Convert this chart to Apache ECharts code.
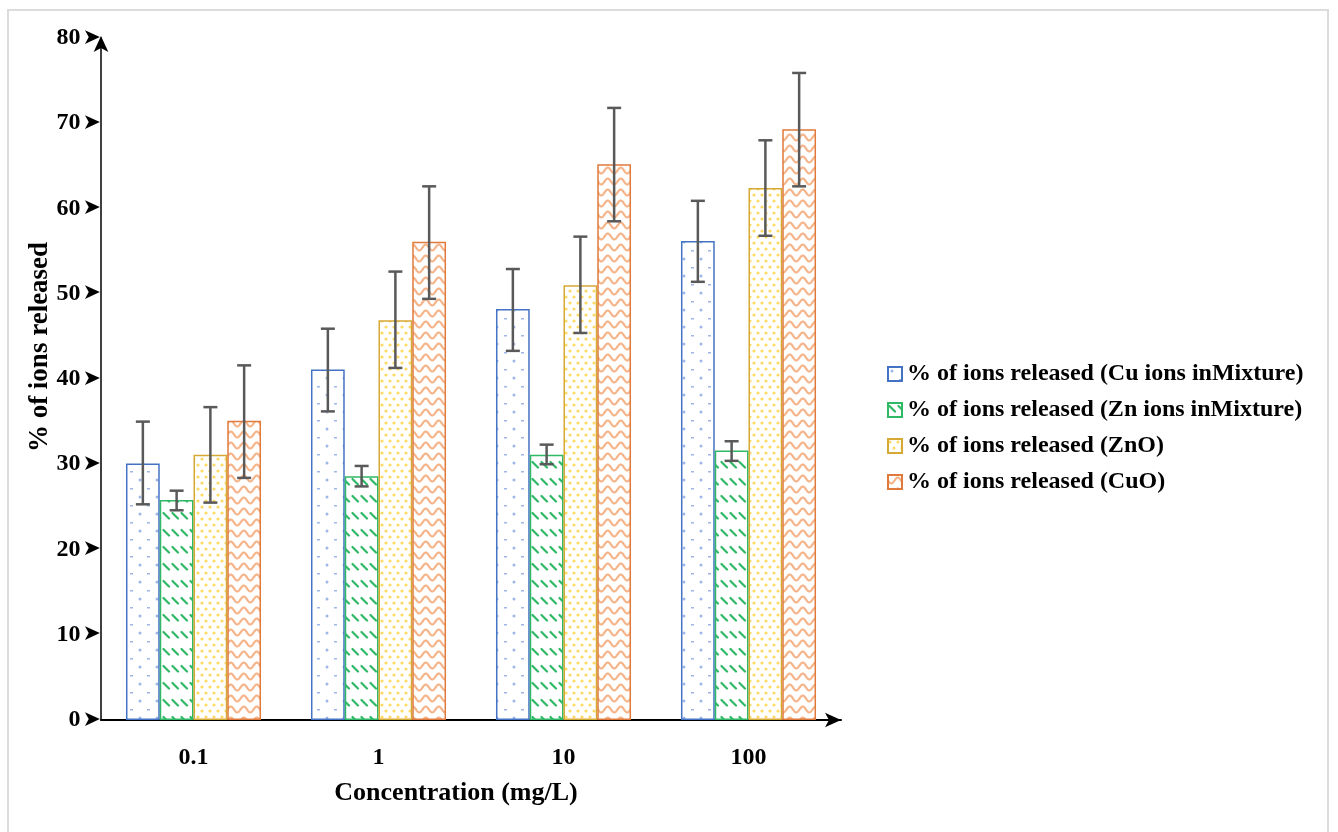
<!DOCTYPE html>
<html>
<head>
<meta charset="utf-8">
<script src="https://cdn.jsdelivr.net/npm/echarts@6/dist/echarts.min.js"></script>
<style>
  html, body { margin: 0; padding: 0; background: #fff; }
  #frame { position: absolute; left: 7px; top: 9px; width: 1322px; height: 830px;
           border: 2px solid #dcdcdc; border-bottom: none; box-sizing: border-box; }
  #chart { position: absolute; left: 0; top: 0; width: 1338px; height: 832px; }
</style>
</head>
<body>
<div id="frame"></div>
<div id="chart"></div>
<script>
// 数据
const categories = ["0.1", "1", "10", "100"];
const seriesNames = [
  "% of ions released (Cu ions inMixture)",
  "% of ions released (Zn ions inMixture)",
  "% of ions released (ZnO)",
  "% of ions released (CuO)"
];
const cuMix = [30.1, 41.1, 48.2, 56.2];
const znMix = [25.8, 28.6, 31.1, 31.6];
const zno = [31.1, 46.9, 51.0, 62.4];
const cuo = [35.1, 56.1, 65.2, 69.3];
// 误差线 [低, 高]
const cuMixErr = [[25.3, 35.0], [36.2, 45.9], [43.3, 52.9], [51.4, 60.9]];
const znMixErr = [[24.6, 26.9], [27.4, 29.8], [30.0, 32.3], [30.4, 32.7]];
const znoErr = [[25.5, 36.7], [41.3, 52.6], [45.4, 56.7], [56.8, 68.0]];
const cuoErr = [[28.4, 41.6], [49.4, 62.6], [58.5, 71.8], [62.6, 75.9]];
const yTicks = [0, 10, 20, 30, 40, 50, 60, 70, 80];

const values = [cuMix, znMix, zno, cuo];
const errors = [cuMixErr, znMixErr, znoErr, cuoErr];
const borderColors = ["#4472c4", "#2fb865", "#d6a834", "#e07a3c"];
const FONT = "'Liberation Serif', 'Times New Roman', serif";

// 填充图案
function makeTile(w, h, draw) {
  const c = document.createElement("canvas");
  c.width = w;
  c.height = h;
  const ctx = c.getContext("2d");
  draw(ctx);
  return { image: c, repeat: "repeat" };
}
const patterns = [
  makeTile(17, 17, ctx => {
    ctx.fillStyle = "#9fb7e6";
    ctx.beginPath(); ctx.arc(4, 4, 1.5, 0, Math.PI * 2); ctx.fill();
    ctx.fillRect(11, 12, 3, 1.5);
  }),
  makeTile(9, 17, ctx => {
    ctx.strokeStyle = "#2fb865";
    ctx.lineWidth = 2.2;
    ctx.lineCap = "round";
    ctx.beginPath(); ctx.moveTo(1.5, 3); ctx.lineTo(7, 8.5); ctx.stroke();
  }),
  makeTile(8, 12, ctx => {
    ctx.fillStyle = "#ffd966";
    ctx.beginPath(); ctx.arc(2, 3, 1.6, 0, Math.PI * 2); ctx.fill();
    ctx.beginPath(); ctx.arc(6, 9, 1.6, 0, Math.PI * 2); ctx.fill();
  }),
  makeTile(13, 11, ctx => {
    ctx.strokeStyle = "#f5b48a";
    ctx.lineWidth = 2.2;
    ctx.beginPath();
    for (let x = -1; x <= 14; x += 0.5) {
      const y = 5.5 + 3 * Math.sin((x / 13) * Math.PI * 2);
      if (x === -1) ctx.moveTo(x, y); else ctx.lineTo(x, y);
    }
    ctx.stroke();
  })
];

const CAT_GAP = 0.27;
const barSeries = seriesNames.map((name, i) => ({
  name: name,
  type: "bar",
  data: values[i],
  barGap: "0%",
  barCategoryGap: CAT_GAP * 100 + "%",
  itemStyle: {
    color: patterns[i],
    borderColor: borderColors[i],
    borderWidth: 1.5
  },
  z: 2
}));

const errData = [];
errors.forEach((arr, s) => {
  arr.forEach((e, c) => errData.push([c, e[0], e[1], s]));
});

const errorSeries = {
  type: "custom",
  data: errData,
  z: 5,
  silent: true,
  renderItem: function (params, api) {
    const c = api.value(0);
    const s = api.value(3);
    const band = api.size([1, 0])[0];
    const barW = band * (1 - CAT_GAP) / 4;
    const lo = api.coord([c, api.value(1)]);
    const hi = api.coord([c, api.value(2)]);
    const x = lo[0] + (s - 1.5) * barW;
    const cap = 7;
    const style = { stroke: "#595959", lineWidth: 2.5, fill: null };
    return {
      type: "group",
      children: [
        { type: "line", shape: { x1: x, y1: hi[1], x2: x, y2: lo[1] }, style: style },
        { type: "line", shape: { x1: x - cap, y1: hi[1], x2: x + cap, y2: hi[1] }, style: style },
        { type: "line", shape: { x1: x - cap, y1: lo[1], x2: x + cap, y2: lo[1] }, style: style }
      ]
    };
  }
};

const chart = echarts.init(document.getElementById("chart"));
chart.setOption({
  animation: false,
  textStyle: { fontFamily: FONT },
  grid: { left: 101, right: 497, top: 38, bottom: 112, containLabel: false },
  legend: {
    data: seriesNames,
    orient: "vertical",
    left: 882,
    top: 357,
    itemWidth: 14,
    itemHeight: 14,
    itemGap: 12,
    icon: "rect",
    textStyle: { fontFamily: FONT, fontWeight: "bold", fontSize: 24, color: "#000" }
  },
  graphic: [
    {
      type: "text",
      x: 40,
      y: 347,
      rotation: Math.PI / 2,
      style: {
        text: "% of ions released",
        font: "bold 27px " + FONT,
        fill: "#000",
        align: "center",
        verticalAlign: "middle"
      }
    },
    {
      type: "text",
      x: 456,
      y: 793,
      style: {
        text: "Concentration (mg/L)",
        font: "bold 26px " + FONT,
        fill: "#000",
        align: "center",
        verticalAlign: "middle"
      }
    }
  ],
  xAxis: {
    type: "category",
    data: categories,
    axisLine: {
      lineStyle: { color: "#000", width: 2 },
      symbol: ["none", "arrow"],
      symbolSize: [11, 16],
      symbolOffset: [0, 0]
    },
    axisTick: { show: false },
    axisLabel: {
      margin: 26,
      color: "#000",
      fontFamily: FONT,
      fontWeight: "bold",
      fontSize: 24
    }
  },
  yAxis: {
    type: "value",
    min: yTicks[0],
    max: yTicks[yTicks.length - 1],
    interval: 10,
    axisLine: {
      show: true,
      lineStyle: { color: "#000", width: 1.5 },
      symbol: ["none", "arrow"],
      symbolSize: [11, 16],
      symbolOffset: [0, 2]
    },
    axisTick: { show: false },
    splitLine: { show: false },
    axisLabel: {
      margin: 0,
      formatter: v => "{v|" + v + "}{a|➤}",
      rich: {
        v: { fontFamily: FONT, fontWeight: "bold", fontSize: 24, color: "#000", padding: [0, 2, 0, 0] },
        a: { fontFamily: "DejaVu Sans", fontSize: 22, color: "#000" }
      }
    }
  },
  series: barSeries.concat([errorSeries])
});
</script>
</body>
</html>
